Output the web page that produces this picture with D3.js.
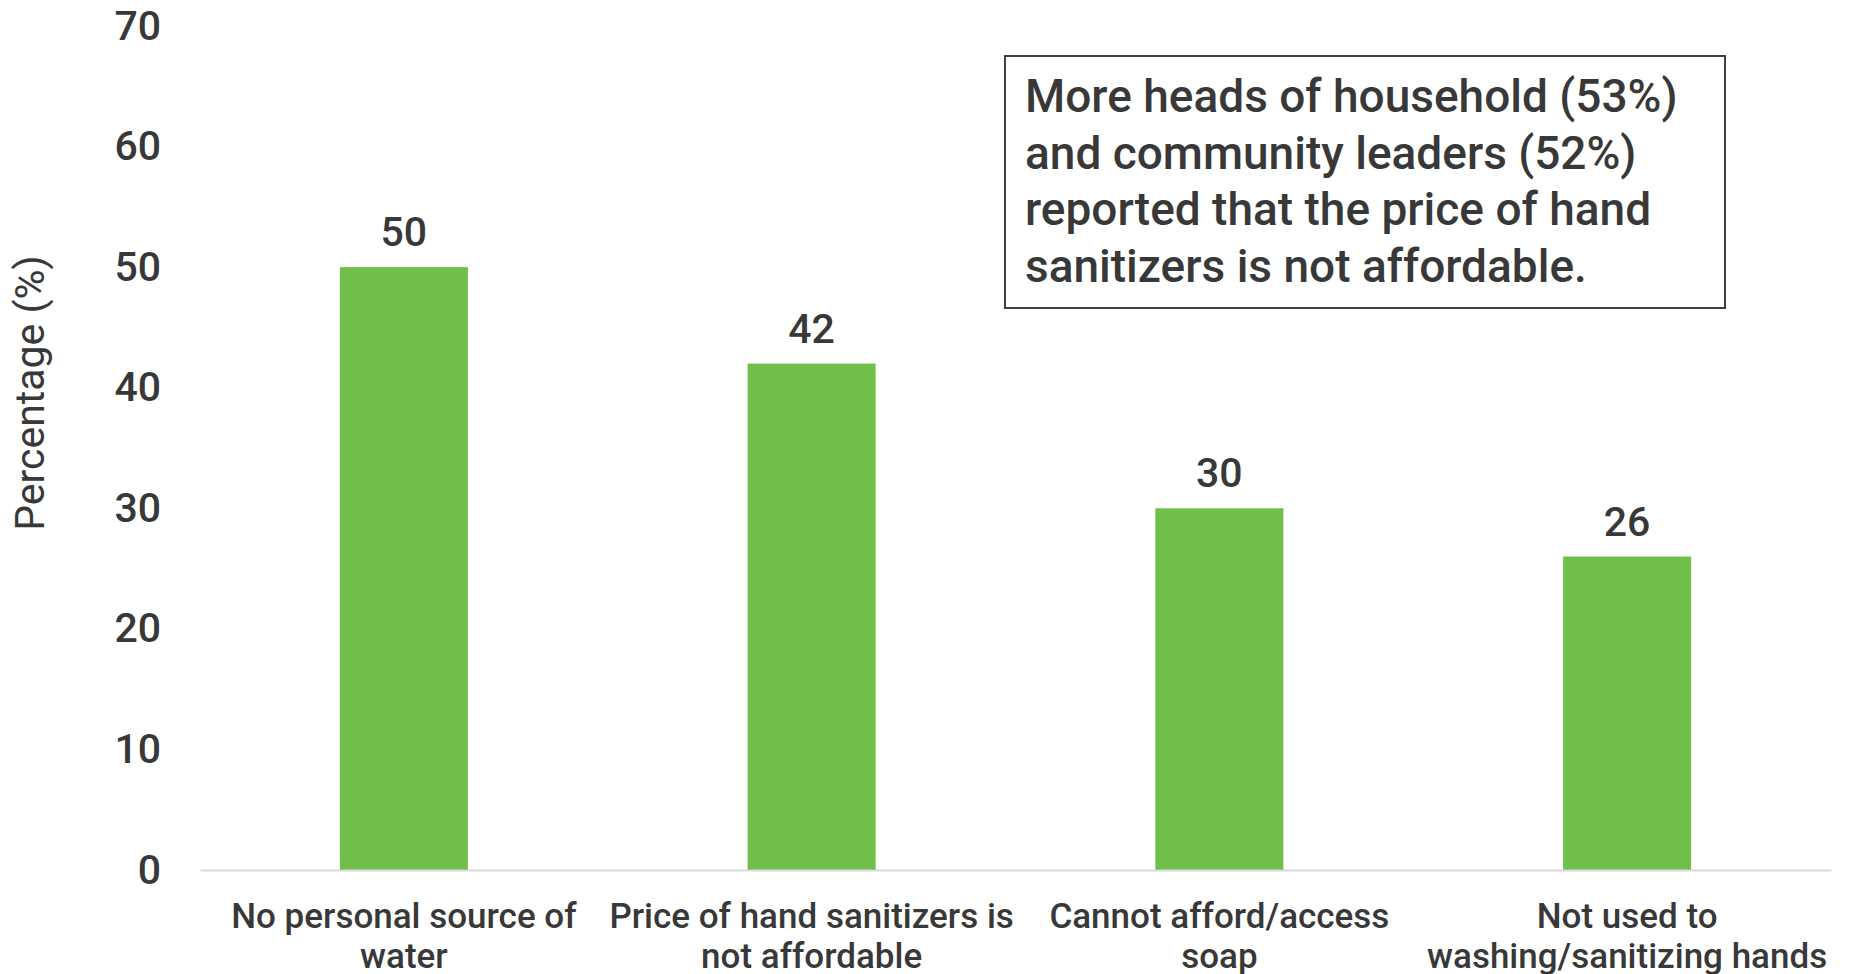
<!DOCTYPE html>
<html><head><meta charset="utf-8">
<script src="https://cdn.jsdelivr.net/npm/d3@7"></script>
<style>
html,body{margin:0;padding:0;background:#fff;overflow:hidden;}
text{font-family:Roboto,"Liberation Sans",Arial,sans-serif;fill:#383838;}
</style></head><body>
<svg id="c" width="1849" height="974"></svg>
<script>
const categories = ["No personal source of water","Price of hand sanitizers is not affordable","Cannot afford/access soap","Not used to washing/sanitizing hands"];
const categoryLines = [["No personal source of","water"],["Price of hand sanitizers is","not affordable"],["Cannot afford/access","soap"],["Not used to","washing/sanitizing hands"]];
const values = [50,42,30,26];
const yTicks = [0,10,20,30,40,50,60,70];
const yTitle = "Percentage (%)";
const noteLines = ["More heads of household (53%)","and community leaders (52%)","reported that the price of hand","sanitizers is not affordable."];

const svg = d3.select("#c");
const x = d3.scaleBand().domain(categories).range([200,1831]).paddingInner(0.686).paddingOuter(0.343);
const y = d3.scaleLinear().domain([0,70]).range([870,26]);

// y axis
const ya = svg.append("g").attr("transform","translate(161,0)")
  .call(d3.axisLeft(y).tickValues(yTicks).tickSize(0).tickPadding(0));
ya.select(".domain").remove();
ya.selectAll("text").attr("font-size",41).attr("font-weight",500).attr("fill","#383838")
  .style("font-family","Roboto,'Liberation Sans',Arial,sans-serif");

// bars
svg.append("g").selectAll("rect").data(values).join("rect")
  .attr("x",(d,i)=>x(categories[i])).attr("width",x.bandwidth())
  .attr("y",d=>y(d)).attr("height",d=>y(0)-y(d)).attr("fill","#6fbf4a");

// x axis
const xa = svg.append("g").attr("transform","translate(0,870)")
  .call(d3.axisBottom(x).tickSize(0).tickFormat(""));
xa.select(".domain").attr("stroke","#d9d9d9").attr("stroke-width",2);
xa.selectAll(".tick text").remove();
svg.append("g").selectAll("text").data(categoryLines).join("text")
  .attr("text-anchor","middle").attr("font-size",35).attr("font-weight",500)
  .attr("transform",(d,i)=>`translate(${x(categories[i])+x.bandwidth()/2},928)`)
  .selectAll("tspan").data(d=>d).join("tspan")
  .attr("x",0).attr("y",(d,j)=>j*40).text(d=>d);

// value labels
svg.append("g").selectAll("text").data(values).join("text")
  .attr("x",(d,i)=>x(categories[i])+x.bandwidth()/2).attr("y",d=>y(d)-21)
  .attr("text-anchor","middle").attr("font-size",41).attr("font-weight",500).text(d=>d);

// y title
svg.append("text").attr("transform","translate(44,393) rotate(-90)")
  .attr("text-anchor","middle").attr("font-size",41).text(yTitle);

// annotation box
svg.append("rect").attr("x",1005).attr("y",56).attr("width",720).attr("height",252)
  .attr("fill","#fff").attr("stroke","#404040").attr("stroke-width",2);
svg.append("g").selectAll("text").data(noteLines).join("text")
  .attr("x",1025).attr("y",(d,i)=>112+i*56.7).attr("font-size",46).attr("font-weight",500).text(d=>d);
</script></body></html>
